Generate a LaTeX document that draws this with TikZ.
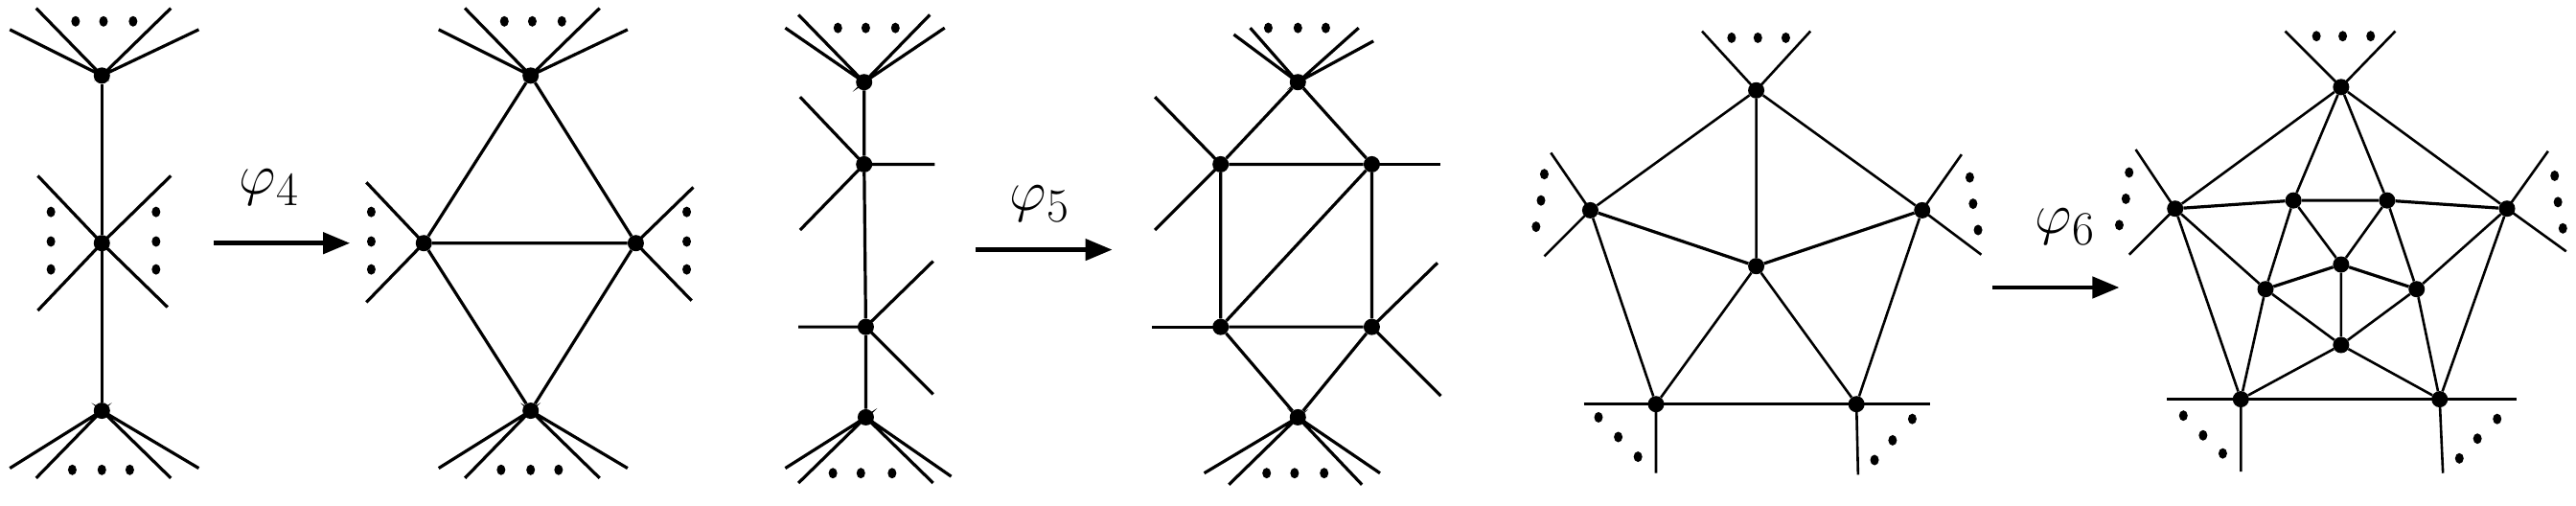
\documentclass[tikz,border=0pt]{standalone}
\usepackage{amsmath}
\usepackage{tikz}
\usetikzlibrary{arrows.meta}
\tikzset{
  vtx/.style={circle,fill=black,inner sep=0pt,minimum size=17pt},
  ed/.style={line width=3.2pt},
  ted/.style={line width=2.6pt},
  arr/.style={line width=4.5pt,-{Triangle[length=28pt,width=22pt]}},
  lbl/.style={font=\Huge,scale=2.4}
}
\newcommand{\dt}[1]{\fill #1 circle [x radius=4.5pt, y radius=5.5pt];}
\begin{document}
\begin{tikzpicture}[x=1.714pt,y=-1.714pt]
  \useasboundingbox (0,0) rectangle (1568,308);
  % graph 1
  \node[vtx] (a1) at (62,46) {};
  \node[vtx] (a2) at (62,148) {};
  \node[vtx] (a3) at (62,250) {};
  \draw[ed] (a1) -- (a2) -- (a3);
  \draw[ed] (6,18) -- (a1.center) -- (22,5) (104,5) -- (a1.center) -- (121,18);
  \draw[ed] (23,107) -- (a2.center) -- (102,187) (104,107) -- (a2.center) -- (23,189);
  \draw[ed] (6,285) -- (a3.center) -- (22,291) (104,291) -- (a3.center) -- (121,285);
  \foreach \x in {46,63,81} {\dt{(\x,13)}}
  \foreach \x in {44,62,79} {\dt{(\x,286)}}
  \foreach \y in {129,147,164} {\dt{(31,\y)} \dt{(95,\y)}}
  % phi_4
  \coordinate (p1) at (130,148);
  \coordinate (q1) at (213,148);
  \draw[arr] (p1) -- (q1);
  \node[lbl] at (164,114) {$\varphi_{4}$};
  % graph 2
  \node[vtx] (b1) at (323,46) {};
  \node[vtx] (b2) at (258,148) {};
  \node[vtx] (b3) at (387,148) {};
  \node[vtx] (b4) at (323,250) {};
  \draw[ed] (b1) -- (b2) -- (b4) -- (b3) -- (b1) (b2) -- (b3);
  \draw[ed] (267,18) -- (b1.center) -- (283,5) (365,5) -- (b1.center) -- (382,18);
  \draw[ed] (223,111) -- (b2.center) -- (223,184);
  \draw[ed] (422,114) -- (b3.center) -- (421,183);
  \draw[ed] (267,285) -- (b4.center) -- (283,291) (365,291) -- (b4.center) -- (382,285);
  \foreach \x in {307,324,342} {\dt{(\x,13)}}
  \foreach \x in {305,323,340} {\dt{(\x,286)}}
  \foreach \y in {129,147,164} {\dt{(226,\y)} \dt{(418,\y)}}
  % graph 3
  \node[vtx] (c1) at (526,50) {};
  \node[vtx] (c2) at (526,100) {};
  \node[vtx] (c3) at (527,199) {};
  \node[vtx] (c4) at (527,254) {};
  \draw[ed] (c1) -- (c2) -- (c3) -- (c4);
  \draw[ed] (478,17) -- (c1.center) -- (486,9) (566,9) -- (c1.center) -- (575,17);
  \draw[ed] (487,59) -- (c2.center) -- (487,140) (c2.center) -- (569,100);
  \draw[ed] (486,199) -- (c3.center) -- (568,159) (c3.center) -- (568,240);
  \draw[ed] (478,285) -- (c4.center) -- (486,294) (568,294) -- (c4.center) -- (579,290);
  \foreach \x in {510,527,545} {\dt{(\x,17)}}
  \foreach \x in {507,524,543} {\dt{(\x,288)}}
  % phi_5
  \coordinate (p2) at (594,152);
  \coordinate (q2) at (677,152);
  \draw[arr] (p2) -- (q2);
  \node[lbl] at (633,124) {$\varphi_{5}$};
  % graph 4
  \node[vtx] (d1) at (790,50) {};
  \node[vtx] (d2) at (743,100) {};
  \node[vtx] (d3) at (835,100) {};
  \node[vtx] (d4) at (743,199) {};
  \node[vtx] (d5) at (835,199) {};
  \node[vtx] (d6) at (790,254) {};
  \draw[ed] (d1) -- (d2) -- (d3) -- (d1) (d2) -- (d4) -- (d5) -- (d3) -- (d4);
  \draw[ed] (d4) -- (d6) -- (d5);
  \draw[ed] (751,21) -- (d1.center) -- (761,17) (827,17) -- (d1.center) -- (836,25);
  \draw[ed] (703,59) -- (d2.center) -- (703,140);
  \draw[ed] (d3.center) -- (877,100);
  \draw[ed] (d4.center) -- (701,199);
  \draw[ed] (875,160) -- (d5.center) -- (877,241);
  \draw[ed] (733,288) -- (d6.center) -- (748,295) (829,295) -- (d6.center) -- (840,288);
  \foreach \x in {772,790,807} {\dt{(\x,17)}}
  \foreach \x in {771,788,806} {\dt{(\x,288)}}
  % graph 5
  \node[vtx] (e1) at (1069,55) {};
  \node[vtx] (e2) at (968,128) {};
  \node[vtx] (e3) at (1170,128) {};
  \node[vtx] (e4) at (1069,162) {};
  \node[vtx] (e5) at (1008,246) {};
  \node[vtx] (e6) at (1130,246) {};
  \draw[ted] (e1) -- (e2) -- (e5) -- (e4) -- (e6) -- (e3) -- (e1) -- (e4);
  \draw[ed] (e2) -- (e4) -- (e3);
  \draw[ted] (1036,19) -- (e1.center) -- (1102,19);
  \draw[ted] (944,93) -- (e2.center) -- (940,156);
  \draw[ted] (1194,94) -- (e3.center) -- (1206,155);
  \draw[ed] (964,246) -- (e5.center) -- (e6.center) -- (1175,246);
  \draw[ted] (e5.center) -- (1008,288) (e6.center) -- (1131,289);
  \foreach \x in {1054,1070,1087} {\dt{(\x,23)}}
  \dt{(940,106)} \dt{(938,122)} \dt{(935,138)}
  \dt{(1199,108)} \dt{(1201,124)} \dt{(1204,140)}
  \dt{(973,254)} \dt{(985,266)} \dt{(997,278)}
  \dt{(1164,255)} \dt{(1152,268)} \dt{(1141,280)}
  % phi_6
  \coordinate (p3) at (1213,175);
  \coordinate (q3) at (1290,175);
  \draw[arr] (p3) -- (q3);
  \node[lbl] at (1257,138) {$\varphi_{6}$};
  % graph 6
  \node[vtx] (f1) at (1425,53) {};
  \node[vtx] (f2) at (1324,127) {};
  \node[vtx] (f3) at (1526,127) {};
  \node[vtx] (f4) at (1396,122) {};
  \node[vtx] (f5) at (1453,122) {};
  \node[vtx] (f6) at (1425,161) {};
  \node[vtx] (f7) at (1379,176) {};
  \node[vtx] (f8) at (1471,176) {};
  \node[vtx] (f9) at (1425,210) {};
  \node[vtx] (f10) at (1364,243) {};
  \node[vtx] (f11) at (1485,243) {};
  \draw[ted] (f1) -- (f2) (f1) -- (f3) (f1) -- (f4) (f1) -- (f5);
  \draw[ed] (f2) -- (f4) -- (f5) -- (f3);
  \draw[ted] (f2) -- (f7) (f2) -- (f10) (f3) -- (f8) (f3) -- (f11);
  \draw[ted] (f4) -- (f7) -- (f10) (f5) -- (f8) -- (f11);
  \draw[ted] (f4) -- (f6) -- (f5) (f6) -- (f9);
  \draw[ed] (f7) -- (f6) -- (f8);
  \draw[ted] (f7) -- (f9) -- (f8) (f10) -- (f9) -- (f11);
  \draw[ted] (1391,19) -- (f1.center) -- (1458,19);
  \draw[ted] (1300,91) -- (f2.center) -- (1296,155);
  \draw[ted] (1551,92) -- (f3.center) -- (1562,153);
  \draw[ed] (1319,243) -- (f10.center) -- (f11.center) -- (1532,243);
  \draw[ted] (f10.center) -- (1364,287) (f11.center) -- (1487,288);
  \foreach \x in {1410,1426,1443} {\dt{(\x,22)}}
  \dt{(1296,105)} \dt{(1294,121)} \dt{(1290,137)}
  \dt{(1555,107)} \dt{(1557,123)} \dt{(1560,139)}
  \dt{(1329,253)} \dt{(1341,265)} \dt{(1353,276)}
  \dt{(1520,255)} \dt{(1508,267)} \dt{(1497,279)}
\end{tikzpicture}
\end{document}
